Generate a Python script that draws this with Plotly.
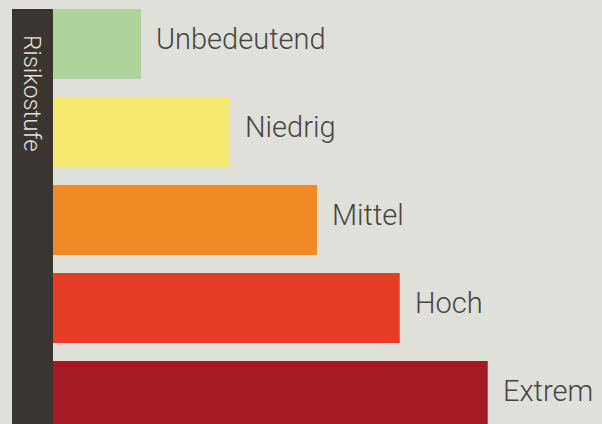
import plotly.graph_objects as go

categories = ["Unbedeutend", "Niedrig", "Mittel", "Hoch", "Extrem"]
values = [1.0, 2.01, 3.0, 3.94, 4.94]
colors = ["#aed39b", "#f4e96e", "#f18a24", "#e53d25", "#a51a24"]
axis_title = "Risikostufe"

BG = "#dfe0da"
DARK = "#3a3531"
TEXT = "#474542"
FONT = "Roboto Light, Roboto, sans-serif"

fig = go.Figure()
fig.add_trace(go.Bar(
    y=list(range(len(categories))),
    x=values,
    orientation="h",
    marker=dict(color=colors, line=dict(width=0)),
    hoverinfo="skip",
))

for i, (c, v) in enumerate(zip(categories, values)):
    fig.add_annotation(
        x=v, y=i, text=c, showarrow=False,
        xanchor="left", yanchor="middle", xshift=13, yshift=5,
        font=dict(family=FONT, size=29, color=TEXT, weight=300),
    )

x_left = -41 / 88
x_right = (602 - 53) / 88
fig.add_shape(type="rect", xref="x", yref="paper", x0=x_left, x1=0, y0=0, y1=1,
              fillcolor=DARK, line=dict(width=0), layer="below")
fig.add_annotation(
    x=x_left / 2, y=1, xref="x", yref="paper", text=axis_title, showarrow=False,
    textangle=90, xanchor="center", yanchor="top", yshift=-24,
    font=dict(family=FONT, size=24, color="#e2e2de", weight=300),
)

fig.update_layout(
    width=602, height=424,
    margin=dict(l=12, r=0, t=9, b=0),
    paper_bgcolor=BG, plot_bgcolor=BG,
    bargap=18 / 88,
    showlegend=False,
    xaxis=dict(range=[x_left, x_right], visible=False, fixedrange=True),
    yaxis=dict(range=[(424 - 44) / 88, -35 / 88], visible=False, fixedrange=True),
)

fig.write_html(
    "out.html",
    config={"displayModeBar": False},
    post_script="document.body.style.margin='0';document.body.style.background='#dfe0da';",
)
